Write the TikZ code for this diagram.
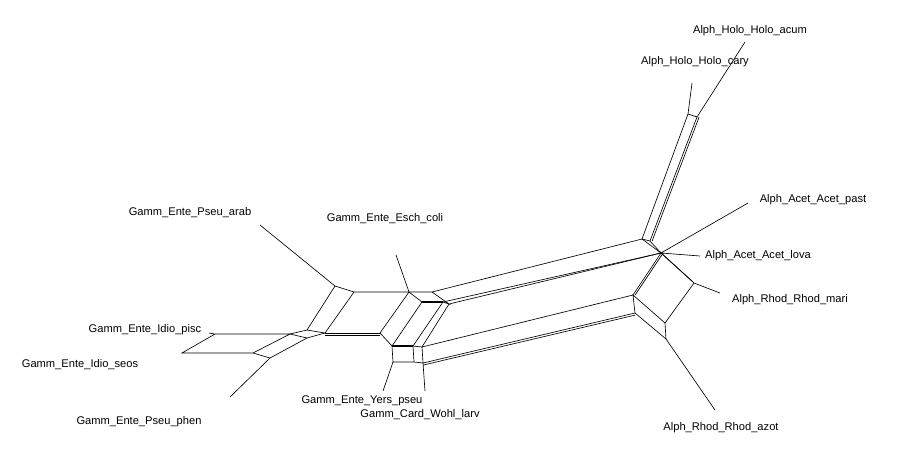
\documentclass[tikz,border=0pt]{standalone}
\usepackage{fontspec}
\setmainfont{Liberation Sans}
\usetikzlibrary{positioning}
\tikzset{
  split/.style={line width=0.55pt},
  twin/.style={split, preaction={draw, line width=0.55pt, transform canvas={shift={#1}}}},
  twin/.default={(0pt,-1.8pt)},
  heavy/.style={line width=1.3pt},
  taxon/.style={font=\fontsize{9.5}{11}\selectfont, inner sep=1pt}
}

\begin{document}
\begin{tikzpicture}[x=0.03cm, y=-0.03cm]
  \useasboundingbox (0,0) rectangle (900,463);

  % ===== Alph side: vertices =====
  \coordinate (H1) at (688,114);
  \coordinate (H2) at (697,117);
  \coordinate (U1) at (642,239);
  \coordinate (U2) at (650,241);
  \coordinate (Cn) at (661,253);
  \coordinate (E)  at (694,283);
  \coordinate (A)  at (633,295);
  \coordinate (B)  at (635,313);
  \coordinate (C)  at (665,323);
  \coordinate (D)  at (666,339);

  % ===== Gamm side: vertices =====
  \coordinate (P1) at (335,286);
  \coordinate (P2) at (354,292);
  \coordinate (P3) at (409,292);
  \coordinate (P4) at (422,302);
  \coordinate (L1) at (432,292);
  \coordinate (L2) at (443,302);
  \coordinate (L3) at (449,304);
  \coordinate (Q1) at (307,330);
  \coordinate (Q2) at (325,333);
  \coordinate (Q3) at (380,333);
  \coordinate (S1) at (290,334);
  \coordinate (S2) at (307,338);
  \coordinate (B1) at (392,346);
  \coordinate (B2) at (413,346);
  \coordinate (M1) at (422,347);
  \coordinate (B3) at (393,362);
  \coordinate (B4) at (414,362);
  \coordinate (M2) at (423,363);
  \coordinate (T1) at (215,334);
  \coordinate (V)  at (182,353);
  \coordinate (T2) at (253,353);
  \coordinate (T3) at (270,358);

  % ===== leaf ends =====
  \coordinate (acum-end) at (745,42);
  \coordinate (cary-end) at (692,83);
  \coordinate (past-end) at (748,203);
  \coordinate (lova-end) at (700,256);
  \coordinate (mari-end) at (720,293);
  \coordinate (azot-end) at (715,410);
  \coordinate (arab-end) at (260,225);
  \coordinate (coli-end) at (396,255);
  \coordinate (pisc-end) at (209,333);
  \coordinate (phen-end) at (230,397);
  \coordinate (yers-end) at (383,391);
  \coordinate (wohl-end) at (425,391);

  % ===== taxa =====
  \node[taxon] (acum) at (750,31)  {Alph\_Holo\_Holo\_acum};
  \node[taxon] (cary) at (695,62)  {Alph\_Holo\_Holo\_cary};
  \node[taxon] (past) at (813,200) {Alph\_Acet\_Acet\_past};
  \node[taxon] (lova) at (758,256) {Alph\_Acet\_Acet\_lova};
  \node[taxon] (mari) at (790,300) {Alph\_Rhod\_Rhod\_mari};
  \node[taxon] (azot) at (721,428) {Alph\_Rhod\_Rhod\_azot};
  \node[taxon] (arab) at (190,213) {Gamm\_Ente\_Pseu\_arab};
  \node[taxon] (coli) at (385,219) {Gamm\_Ente\_Esch\_coli};
  \node[taxon] (pisc) at (145,330) {Gamm\_Ente\_Idio\_pisc};
  \node[taxon] (seos) at (80,365)  {Gamm\_Ente\_Idio\_seos};
  \node[taxon] (phen) at (139,422) {Gamm\_Ente\_Pseu\_phen};
  \node[taxon] (yers) at (362,401) {Gamm\_Ente\_Yers\_pseu};
  \node[taxon] (wohl) at (420,415) {Gamm\_Card\_Wohl\_larv};

  % ===== Alph splits =====
  \draw[split] (cary-end) -- (H1) -- (H2) -- (acum-end);
  \draw[split] (H1) -- (U1) -- (U2);
  \draw[twin={(1.8pt,0pt)}] (H2) -- (U2);
  \draw[split] (U1) -- (Cn);
  \draw[split] (U2) -- (Cn);
  \draw[split] (past-end) -- (Cn) -- (lova-end);
  \draw[twin={(1.8pt,0pt)}] (Cn) -- (A);
  \draw[twin={(-1.3pt,1.3pt)}] (Cn) -- (E);
  \draw[split] (mari-end) -- (E) -- (C) -- (A) -- (B) -- (D) -- (C);
  \draw[split] (D) -- (azot-end);

  % ===== long bands =====
  \draw[split] (L1) -- (U1);
  \draw[split] (L2) -- (Cn);
  \draw[split] (L3) -- (Cn);
  \draw[split] (M1) -- (A);
  \draw[twin]  (M2) -- (B);

  % ===== Gamm splits =====
  \draw[split] (arab-end) -- (P1) -- (P2) -- (P3) -- (L1) -- (L3) -- (L2);
  \draw[split] (coli-end) -- (P3) -- (P4);
  \draw[heavy] (P4) -- (L2);
  \draw[split] (P1) -- (Q1);
  \draw[split] (P2) -- (Q2);
  \draw[split] (P3) -- (Q3);
  \draw[split] (P4) -- (B1);
  \draw[split] (L2) -- (B2);
  \draw[split] (L3) -- (M1);
  \draw[twin]  (Q2) -- (Q3);
  \draw[split] (Q3) -- (B1);
  \draw[heavy] (B1) -- (B2);
  \draw[split] (B2) -- (M1) -- (M2) -- (B4) -- (B3) -- (B1);
  \draw[split] (B2) -- (B4);
  \draw[split] (B3) -- (yers-end);
  \draw[split] (M2) -- (wohl-end);

  % ===== Idio / Pseu_phen =====
  \draw[split] (S1) -- (Q1) -- (Q2) -- (S2) -- (S1);
  \draw[split] (pisc-end) -- (T1) -- (S1) -- (T2) -- (V) -- (T1);
  \draw[split] (T2) -- (T3) -- (S2);
  \draw[split] (T3) -- (phen-end);
\end{tikzpicture}
\end{document}
